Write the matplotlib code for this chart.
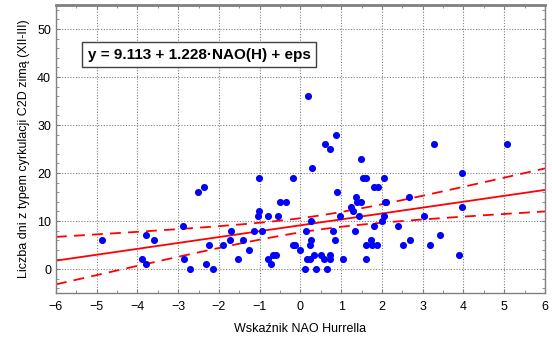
import numpy as np
import matplotlib
matplotlib.use("Agg")
import matplotlib.pyplot as plt
from matplotlib.ticker import MultipleLocator

plt.rcParams['font.family'] = ['Liberation Sans', 'DejaVu Sans']

nao = [-4.88, -3.80, -3.59, -3.88, -3.78, -2.88, -2.86, -2.70, -2.51, -2.37, -2.32, -2.25,
       -2.14, -1.89, -1.73, -1.70, -1.54, -1.42, -1.26, -1.13, -1.02, -1.02, -1.04, -0.95,
       -0.79, -0.79, -0.73, -0.67, -0.61, -0.54, -0.50, -0.36, -0.19, -0.19, -0.14, 0.00,
       0.18, 0.87, 0.61, 0.73, 1.49, 0.29, 1.53, 1.62, 2.06, 1.80, 1.89, 0.90, 1.36, 2.67,
       1.39, 1.48, 2.07, 2.11, 1.23, 1.28, 3.97, 3.97, 0.97, 1.44, 2.06, 1.99, 0.26, 3.03,
       1.81, 2.39, 0.13, 0.79, 1.35, 0.27, 0.84, 1.72, 2.69, 3.42, 0.23, 1.62, 1.75, 1.87,
       2.52, 3.19, 0.34, 0.50, 0.72, 3.90, 0.16, 0.23, 0.58, 0.72, 1.04, 1.61, 0.11, 0.37,
       0.64, 3.28, 5.08]
days = [6, 7, 6, 2, 1, 9, 2, 0, 16, 17, 1, 5,
        0, 5, 6, 8, 2, 6, 4, 8, 19, 12, 11, 8,
        11, 2, 1, 3, 3, 11, 14, 14, 19, 5, 5, 4,
        36, 28, 26, 25, 23, 21, 19, 19, 19, 17, 17, 16, 15, 15,
        14, 14, 14, 14, 13, 12, 20, 13, 11, 11, 11, 10, 10, 11,
        9, 9, 8, 8, 8, 6, 6, 6, 6, 7, 5, 5, 5, 5,
        5, 5, 3, 3, 3, 3, 2, 2, 2, 2, 2, 2, 0, 0,
        0, 26, 26]

intercept = 9.113
slope = 1.228
equation = "y = 9.113 + 1.228\u00b7NAO(H) + eps"

x = np.array(nao)
y = np.array(days)
n = len(x)
resid = y - (intercept + slope * x)
s = np.sqrt(np.sum(resid**2) / (n - 2))
xm = x.mean()
sxx = np.sum((x - xm)**2)
t = 1.986

xs = np.linspace(-6, 6, 200)
yfit = intercept + slope * xs
se = s * np.sqrt(1.0 / n + (xs - xm)**2 / sxx)

fig = plt.figure(figsize=(5.52, 3.39), dpi=100)
ax = fig.add_axes([0.1014, 0.1357, 0.8859, 0.8493])

ax.scatter(x, y, s=26, color='#0000ff', zorder=3, linewidths=0)
ax.plot(xs, yfit, color='#ff0000', lw=1.3, zorder=2)
ax.plot(xs, yfit + t * se, color='#ff0000', lw=1.3, ls=(0, (6, 4)), zorder=2)
ax.plot(xs, yfit - t * se, color='#ff0000', lw=1.3, ls=(0, (6, 4)), zorder=2)

ax.set_xlim(-6, 6)
ax.set_ylim(-5, 55)
ax.xaxis.set_major_locator(MultipleLocator(1))
ax.xaxis.set_minor_locator(MultipleLocator(0.5))
ax.yaxis.set_major_locator(MultipleLocator(10))
ax.yaxis.set_minor_locator(MultipleLocator(2))
ax.tick_params(which='both', direction='in', top=True, right=True, colors='#808080',
               labelcolor='black', labelsize=9)
ax.tick_params(which='major', length=3)
ax.tick_params(which='minor', length=2)
ax.tick_params(axis='x', pad=6)
ax.grid(True, which='major', color='#808080', ls=(0, (1, 1.5)), lw=0.8)
for sp in ax.spines.values():
    sp.set_color('#808080')
    sp.set_linewidth(1.0)
ax.spines['top'].set_linewidth(2.0)

ax.set_xlabel("Wskaźnik NAO Hurrella", fontsize=9, labelpad=7)
ax.set_ylabel("Liczba dni z typem cyrkulacji C2D zimą (XII-III)", fontsize=9, labelpad=5)

ax.text(-5.22, 44.7, equation, fontsize=11, fontweight='bold', va='center', ha='left',
        bbox=dict(boxstyle='square,pad=0.38', facecolor='white', edgecolor='#404040', lw=1.0),
        zorder=5)

fig.savefig("out.png", dpi=100)
